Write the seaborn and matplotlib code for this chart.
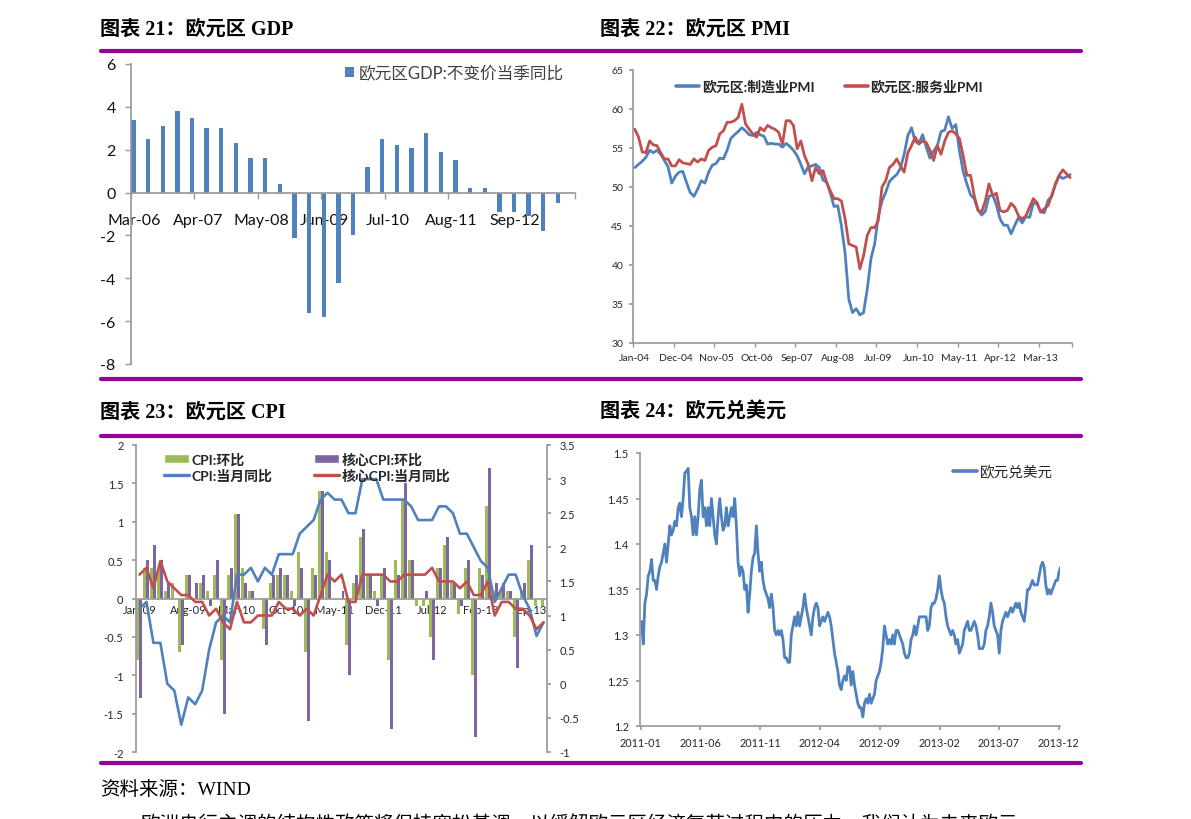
import numpy as np
import pandas as pd
import matplotlib
matplotlib.use('Agg')
import matplotlib.pyplot as plt
import matplotlib.dates as mdates
from matplotlib.lines import Line2D
from matplotlib.patches import Patch
from matplotlib.ticker import FuncFormatter
import seaborn as sns

# ---------------- data ----------------
# Chart 21: euro-area GDP, constant price, yoy (quarterly, Mar-06 .. Jun-13)
gdp_dates = pd.date_range('2006-03-01', periods=30, freq='3MS')
gdp_yoy = [3.4, 2.5, 3.1, 3.8, 3.5, 3.0, 3.0, 2.3, 1.6, 1.6,
           0.4, -2.1, -5.6, -5.8, -4.2, -2.0, 1.2, 2.5, 2.2, 2.1,
           2.8, 1.9, 1.5, 0.2, 0.2, -0.9, -0.9, -1.1, -1.8, -0.5]
gdp_tick_labels = ['Mar-06', 'Apr-07', 'May-08', 'Jun-09', 'Jul-10', 'Aug-11', 'Sep-12']

# Chart 22: euro-area PMI (monthly, Jan-04 .. Nov-13)
pmi_months = pd.date_range('2004-01-01', periods=119, freq='MS')
pmi_mfg = [52.5, 52.9, 53.3, 53.8, 54.7, 54.4, 54.7, 54.2, 53.4, 52.6, 50.5, 51.4,
           51.9, 52.0, 50.6, 49.3, 48.8, 49.7, 50.8, 50.5, 51.9, 52.8, 53.0, 53.7,
           53.6, 54.7, 56.2, 56.7, 57.1, 57.6, 57.2, 56.7, 56.6, 57.0, 56.7, 56.5,
           55.5, 55.6, 55.5, 55.5, 55.1, 55.6, 55.2, 54.7, 54.0, 52.9, 51.7, 52.6,
           52.7, 52.9, 52.5, 50.9, 50.6, 49.2, 47.5, 47.6, 45.0, 41.5, 35.6, 33.9,
           34.4, 33.6, 33.9, 36.9, 40.8, 42.7, 46.3, 48.2, 49.3, 50.7, 51.2, 51.6,
           52.4, 54.2, 56.6, 57.6, 55.8, 55.6, 56.7, 55.1, 53.7, 54.6, 55.3, 57.1,
           57.3, 59.0, 57.5, 58.0, 54.6, 52.0, 50.4, 49.0, 48.5, 47.1, 46.4, 46.9,
           48.8, 49.0, 47.7, 45.9, 45.1, 45.1, 44.0, 45.1, 46.1, 45.4, 46.2, 46.1,
           47.9, 47.9, 46.8, 46.7, 48.3, 48.8, 50.3, 51.4, 51.1, 51.3, 51.6]
pmi_srv = [57.4, 56.4, 54.5, 54.4, 55.9, 55.4, 55.3, 54.4, 53.6, 53.6, 52.7, 52.7,
           53.5, 53.1, 53.0, 52.9, 53.6, 53.2, 53.6, 53.4, 54.7, 55.1, 55.3, 56.8,
           57.2, 58.3, 58.3, 58.5, 58.9, 60.6, 58.1, 57.4, 56.8, 56.4, 57.6, 57.2,
           57.9, 57.6, 57.4, 57.0, 55.5, 58.5, 58.5, 57.9, 54.9, 55.9, 54.0, 52.9,
           50.8, 52.5, 51.7, 52.1, 50.6, 49.5, 48.5, 48.5, 48.2, 45.9, 42.7, 42.5,
           42.3, 39.5, 41.2, 43.8, 44.8, 44.8, 45.7, 50.0, 50.8, 52.5, 52.9, 53.6,
           52.7, 51.9, 54.4, 55.3, 56.4, 55.5, 55.9, 55.7, 54.7, 53.4, 55.3, 54.2,
           55.9, 57.0, 57.2, 56.8, 56.2, 54.0, 51.5, 51.5, 48.9, 47.0, 46.8, 48.2,
           50.4, 48.9, 49.2, 47.0, 46.8, 47.0, 47.9, 47.4, 46.3, 45.9, 46.3, 47.4,
           48.5, 48.0, 46.8, 47.2, 47.6, 48.9, 50.4, 51.5, 52.2, 51.7, 51.2]
pmi_tick_labels = ['Jan-04', 'Dec-04', 'Nov-05', 'Oct-06', 'Sep-07', 'Aug-08',
                   'Jul-09', 'Jun-10', 'May-11', 'Apr-12', 'Mar-13']

# Chart 23: euro-area CPI (monthly, Jan-09 .. Nov-13)
cpi_months = pd.date_range('2009-01-01', periods=59, freq='MS')
cpi_mom = [-0.8, 0.4, 0.4, 0.4, 0.1, 0.2, -0.7, 0.3, 0.0, 0.2, 0.1, 0.3,
           -0.8, 0.3, 1.1, 0.4, 0.1, 0.0, -0.4, 0.2, 0.3, 0.3, 0.1, 0.6,
           -0.7, 0.4, 1.4, 0.6, 0.0, 0.0, -0.6, 0.2, 0.8, 0.3, 0.1, 0.3,
           -0.8, 0.5, 1.3, 0.5, -0.1, -0.1, -0.5, 0.4, 0.7, 0.2, -0.2, 0.4,
           -1.0, 0.4, 1.2, 0.1, 0.1, 0.1, -0.5, 0.1, 0.5, -0.1, -0.1]
core_mom = [-1.3, 0.5, 0.7, 0.5, 0.2, 0.0, -0.6, 0.3, 0.2, 0.3, -0.1, 0.5,
            -1.5, 0.4, 1.1, 0.2, 0.1, 0.0, -0.6, 0.3, 0.4, 0.3, -0.1, 0.4,
            -1.6, 0.3, 1.4, 0.5, 0.0, 0.1, -1.0, 0.3, 0.9, 0.3, -0.1, 0.4,
            -1.7, 0.3, 1.5, 0.5, 0.0, 0.1, -0.8, 0.4, 0.8, 0.2, -0.1, 0.5,
            -1.8, 0.3, 1.7, 0.2, 0.2, 0.1, -0.9, 0.2, 0.7, 0.0, 0.0]
cpi_yoy = [1.1, 1.2, 0.6, 0.6, 0.0, -0.1, -0.6, -0.2, -0.3, -0.1, 0.5, 0.9,
           1.0, 0.9, 1.6, 1.6, 1.7, 1.5, 1.7, 1.6, 1.9, 1.9, 1.9, 2.2,
           2.3, 2.4, 2.7, 2.8, 2.7, 2.7, 2.5, 2.5, 3.0, 3.0, 3.0, 2.7,
           2.7, 2.7, 2.7, 2.6, 2.4, 2.4, 2.4, 2.6, 2.6, 2.5, 2.2, 2.2,
           2.0, 1.8, 1.7, 1.2, 1.4, 1.6, 1.6, 1.3, 1.1, 0.7, 0.9]
core_yoy = [1.6, 1.7, 1.4, 1.8, 1.5, 1.4, 1.3, 1.3, 1.2, 1.2, 1.0, 1.1,
            0.9, 0.8, 1.2, 0.9, 0.9, 1.0, 1.0, 1.0, 1.2, 1.1, 1.1, 1.0,
            1.1, 1.0, 1.3, 1.6, 1.5, 1.6, 1.2, 1.2, 1.6, 1.6, 1.6, 1.6,
            1.5, 1.5, 1.6, 1.6, 1.6, 1.6, 1.7, 1.5, 1.5, 1.5, 1.4, 1.5,
            1.3, 1.3, 1.5, 1.0, 1.2, 1.2, 1.1, 1.1, 1.0, 0.8, 0.9]
cpi_tick_labels = ['Jan-09', 'Aug-09', 'Mar-10', 'Oct-10', 'May-11', 'Dec-11',
                   'Jul-12', 'Feb-13', 'Sep-13']
cpi_series = ['CPI:环比', '核心CPI:环比', 'CPI:当月同比', '核心CPI:当月同比']

# Chart 24: EUR/USD (read at regular intervals, Jan-2011 .. Dec-2013)
fx_start, fx_end = '2011-01-03', '2013-12-06'
eurusd = [1.315, 1.29, 1.335, 1.345, 1.365, 1.37, 1.383, 1.36, 1.36, 1.35,
          1.365, 1.375, 1.38, 1.39, 1.40, 1.38, 1.40, 1.42, 1.41, 1.415,
          1.425, 1.42, 1.44, 1.445, 1.43, 1.45, 1.478, 1.48, 1.483, 1.44,
          1.43, 1.41, 1.43, 1.41, 1.43, 1.46, 1.47, 1.43, 1.44, 1.42,
          1.44, 1.42, 1.45, 1.43, 1.41, 1.40, 1.43, 1.45, 1.43, 1.415,
          1.42, 1.44, 1.42, 1.43, 1.44, 1.43, 1.45, 1.42, 1.38, 1.365,
          1.375, 1.37, 1.35, 1.355, 1.325, 1.345, 1.37, 1.385, 1.39, 1.42,
          1.39, 1.37, 1.38, 1.36, 1.35, 1.345, 1.34, 1.33, 1.345, 1.33,
          1.305, 1.30, 1.305, 1.30, 1.305, 1.295, 1.275, 1.275, 1.27, 1.27,
          1.30, 1.31, 1.32, 1.31, 1.325, 1.31, 1.32, 1.33, 1.345, 1.33,
          1.32, 1.31, 1.30, 1.32, 1.33, 1.335, 1.33, 1.31, 1.315, 1.32,
          1.315, 1.32, 1.325, 1.32, 1.31, 1.295, 1.28, 1.27, 1.26, 1.245,
          1.24, 1.25, 1.255, 1.25, 1.265, 1.265, 1.245, 1.26, 1.245, 1.235,
          1.225, 1.22, 1.22, 1.21, 1.225, 1.23, 1.225, 1.235, 1.225, 1.23,
          1.235, 1.25, 1.255, 1.26, 1.27, 1.285, 1.31, 1.30, 1.29, 1.295,
          1.29, 1.30, 1.29, 1.305, 1.305, 1.30, 1.295, 1.29, 1.28, 1.275,
          1.275, 1.28, 1.295, 1.30, 1.31, 1.30, 1.31, 1.32, 1.32, 1.32,
          1.32, 1.32, 1.305, 1.31, 1.33, 1.335, 1.335, 1.34, 1.35, 1.365,
          1.35, 1.34, 1.335, 1.32, 1.31, 1.305, 1.30, 1.305, 1.30, 1.29,
          1.295, 1.28, 1.285, 1.29, 1.305, 1.31, 1.315, 1.305, 1.305, 1.31,
          1.315, 1.31, 1.30, 1.285, 1.285, 1.285, 1.29, 1.305, 1.31, 1.32,
          1.335, 1.325, 1.31, 1.305, 1.30, 1.28, 1.305, 1.315, 1.32, 1.325,
          1.32, 1.325, 1.33, 1.325, 1.33, 1.335, 1.33, 1.335, 1.325, 1.32,
          1.315, 1.33, 1.35, 1.35, 1.355, 1.36, 1.355, 1.355, 1.355, 1.365,
          1.375, 1.38, 1.375, 1.355, 1.345, 1.35, 1.345, 1.35, 1.355, 1.36,
          1.36, 1.37, 1.375]

titles = ['图表 21：欧元区 GDP', '图表 22：欧元区 PMI', '图表 23：欧元区 CPI', '图表 24：欧元兑美元']
source_text = '资料来源：WIND'
body_text = '欧洲央行主调的结构性政策将保持宽松基调，以缓解欧元区经济复苏过程中的压力，我们认为未来欧元'

# ---------------- style ----------------
sns.set_theme(style='white')
plt.rcParams['font.family'] = ['Lato', 'Noto Sans CJK SC', 'DejaVu Sans']
plt.rcParams['axes.unicode_minus'] = False

BLUE, RED, GREEN, PURPLE = '#4F81BD', '#C0504D', '#9BBB59', '#8064A2'
AXC = '#9A9A9A'
TXT = '#262626'
SERIF = ['Liberation Serif', 'Noto Sans CJK SC']
fmt_g = FuncFormatter(lambda v, p: f'{round(v, 4):g}')

W, H = 1191, 820
fig = plt.figure(figsize=(W / 100, H / 100), dpi=100)


def rect(l, t, r, b):
    return [l / W, 1 - b / H, (r - l) / W, (b - t) / H]


def base_style(ax):
    for s in ['top', 'right']:
        ax.spines[s].set_visible(False)
    ax.spines['left'].set_color(AXC)
    ax.spines['bottom'].set_color(AXC)
    ax.set_xlabel('')
    ax.set_ylabel('')


# ---------- Chart 21: GDP ----------
ax1 = fig.add_axes(rect(131, 65, 575, 365))
gdp_m = (gdp_dates.year - 2006) * 12 + gdp_dates.month - 3
gdp_df = pd.DataFrame({'m': gdp_m + 0.5, 'v': gdp_yoy})
sns.barplot(data=gdp_df, x='m', y='v', native_scale=True, orient='x', width=0.3,
            color=BLUE, saturation=1, errorbar=None, linewidth=0, ax=ax1)
ax1.set_xlim(0, 91)
ax1.set_ylim(-8, 6)
base_style(ax1)
ax1.spines['bottom'].set_position(('data', 0))
ax1.set_yticks(np.arange(-8, 7, 2))
ax1.yaxis.set_major_formatter(fmt_g)
ax1.tick_params(axis='y', direction='out', length=4, color=AXC, width=1,
                labelsize=11.5, labelcolor='#111111', pad=7, left=True)
gdp_ticks = np.arange(0, 79, 13)
ax1.set_xticks(gdp_ticks + 0.7)
ax1.set_xticklabels(gdp_tick_labels)
ax1.set_xticks(np.append(gdp_ticks, 91), minor=True)
ax1.tick_params(axis='x', which='major', length=0, pad=15, labelsize=11.5, labelcolor='#111111')
ax1.tick_params(axis='x', which='minor', direction='out', length=4, color=AXC, bottom=True)
ax1.legend([Patch(facecolor=BLUE, edgecolor='none')], ['欧元区GDP:不变价当季同比'],
           loc='center left', bbox_to_anchor=((345 - 131) / 444, (365 - 74) / 300),
           frameon=False, fontsize=12, handlelength=0.55, handleheight=0.6,
           handletextpad=0.3, borderpad=0, borderaxespad=0, labelcolor='#404040')

# ---------- Chart 22: PMI ----------
ax2 = fig.add_axes(rect(633, 71, 1072, 344))
pmi_i = (pmi_months.year - 2004) * 12 + pmi_months.month - 1
sns.lineplot(x=pmi_i + 0.5, y=pmi_mfg, color=BLUE, lw=2.0, ax=ax2)
sns.lineplot(x=pmi_i + 0.5, y=pmi_srv, color=RED, lw=2.0, ax=ax2)
ax2.set_xlim(0, 119)
ax2.set_ylim(30, 65)
base_style(ax2)
ax2.set_yticks(np.arange(30, 66, 5))
ax2.tick_params(axis='y', direction='out', length=3, color=AXC, labelsize=7.5,
                labelcolor=TXT, pad=4, left=True)
pmi_ticks = np.arange(0, 111, 11)
ax2.set_xticks(pmi_ticks + 0.5)
ax2.set_xticklabels(pmi_tick_labels)
ax2.set_xticks(np.append(pmi_ticks, 119), minor=True)
ax2.tick_params(axis='x', which='major', length=0, pad=7, labelsize=7.5, labelcolor=TXT)
ax2.tick_params(axis='x', which='minor', direction='out', length=3, color=AXC, bottom=True)
ax2.legend([Line2D([], [], color=BLUE, lw=2.6), Line2D([], [], color=RED, lw=2.6)],
           ['欧元区:制造业PMI', '欧元区:服务业PMI'], ncol=2,
           loc='center left', bbox_to_anchor=((676 - 633) / 439, (344 - 87) / 273),
           frameon=False, prop={'size': 10, 'weight': 'bold'}, handlelength=1.65,
           handletextpad=0.2, columnspacing=2.2, borderpad=0, borderaxespad=0)

# ---------- Chart 23: CPI ----------
ax3 = fig.add_axes(rect(136, 446, 547, 753))
cpi_keys = cpi_months.strftime('%Y-%m')
cpi_long = pd.DataFrame({
    'month': list(cpi_keys) * 2,
    'series': [cpi_series[0]] * len(cpi_mom) + [cpi_series[1]] * len(core_mom),
    'v': cpi_mom + core_mom,
})
sns.barplot(data=cpi_long, x='month', y='v', hue='series', order=list(cpi_keys),
            hue_order=cpi_series[:2], palette=[GREEN, PURPLE], saturation=1,
            width=0.86, errorbar=None, legend=False, linewidth=0, ax=ax3)
ax3.set_xlim(-0.5, 58.5)
ax3.set_ylim(-2, 2)
base_style(ax3)
ax3.spines['bottom'].set_position(('data', 0))
ax3.set_yticks(np.arange(-2, 2.01, 0.5))
ax3.yaxis.set_major_formatter(fmt_g)
ax3.tick_params(axis='y', direction='out', length=3, color=AXC, labelsize=8,
                labelcolor=TXT, pad=6, left=True)
cpi_pos = np.arange(0, 57, 7)
ax3.set_xticks(cpi_pos)
ax3.set_xticklabels(cpi_tick_labels)
ax3.tick_params(axis='x', length=0, pad=4, labelsize=8, labelcolor=TXT)

ax3b = ax3.twinx()
k = np.arange(len(cpi_yoy))
sns.lineplot(x=k, y=cpi_yoy, color=BLUE, lw=1.9, ax=ax3b)
sns.lineplot(x=k, y=core_yoy, color=RED, lw=1.9, ax=ax3b)
ax3b.set_ylim(-1, 3.5)
for s in ['top', 'bottom', 'left']:
    ax3b.spines[s].set_visible(False)
ax3b.spines['right'].set_color(AXC)
ax3b.set_ylabel('')
ax3b.set_yticks(np.arange(-1, 3.51, 0.5))
ax3b.yaxis.set_major_formatter(fmt_g)
ax3b.tick_params(axis='y', direction='out', length=3, color=AXC, labelsize=8,
                 labelcolor=TXT, pad=6, right=True)
ax3b.legend([Patch(facecolor=GREEN), Line2D([], [], color=BLUE, lw=2.4),
             Patch(facecolor=PURPLE), Line2D([], [], color=RED, lw=2.4)],
            [cpi_series[0], cpi_series[2], cpi_series[1], cpi_series[3]], ncol=2,
            loc='center left', bbox_to_anchor=((164 - 136) / 411, (753 - 468) / 307),
            frameon=False, prop={'size': 10, 'weight': 'bold'}, handlelength=1.8,
            handleheight=0.6, handletextpad=0.2, labelspacing=0.2, columnspacing=3.0,
            borderpad=0, borderaxespad=0)

# ---------- Chart 24: EUR/USD ----------
ax4 = fig.add_axes(rect(640, 454, 1060, 727))
fx_dates = pd.date_range(fx_start, fx_end, periods=len(eurusd))
sns.lineplot(x=fx_dates, y=eurusd, color=BLUE, lw=2.0, ax=ax4)
ax4.set_xlim(pd.Timestamp('2010-12-30'), pd.Timestamp('2013-12-04'))
ax4.set_ylim(1.2, 1.5)
base_style(ax4)
ax4.set_yticks(np.round(np.arange(1.2, 1.501, 0.05), 2))
ax4.yaxis.set_major_formatter(fmt_g)
ax4.tick_params(axis='y', direction='out', length=3, color=AXC, labelsize=7.8,
                labelcolor=TXT, pad=5, left=True)
ax4.set_xticks(pd.date_range('2011-01-01', '2013-12-01', freq='5MS'))
ax4.xaxis.set_major_formatter(mdates.DateFormatter('%Y-%m'))
ax4.tick_params(axis='x', direction='out', length=3, color=AXC, labelsize=7.8,
                labelcolor=TXT, pad=5, bottom=True)
ax4.legend([Line2D([], [], color=BLUE, lw=2.6)], ['欧元兑美元'],
           loc='center left', bbox_to_anchor=((953 - 640) / 420, (727 - 473) / 273),
           frameon=False, fontsize=10.5, handlelength=1.65, handletextpad=0.2,
           borderpad=0, borderaxespad=0)

# ---------- page decorations ----------
for yy in [52, 380, 437, 764]:
    fig.add_artist(Line2D([101 / W, 1081 / W], [1 - yy / H] * 2, color='#990099', lw=3.0))

for (tx, ty), t in zip([(100, 30), (600, 30), (100, 413), (600, 413)], titles):
    fig.text(tx / W, 1 - ty / H, t, family=SERIF, weight='bold', fontsize=14.5,
             va='center', ha='left', color='black')
fig.text(100 / W, 1 - 790 / H, source_text, family=SERIF, fontsize=14,
         va='center', ha='left', color='black')
fig.text(141 / W, 1 - 815 / H, body_text, family=SERIF, fontsize=14,
         va='top', ha='left', color='black')

fig.savefig('out.png', dpi=100)
